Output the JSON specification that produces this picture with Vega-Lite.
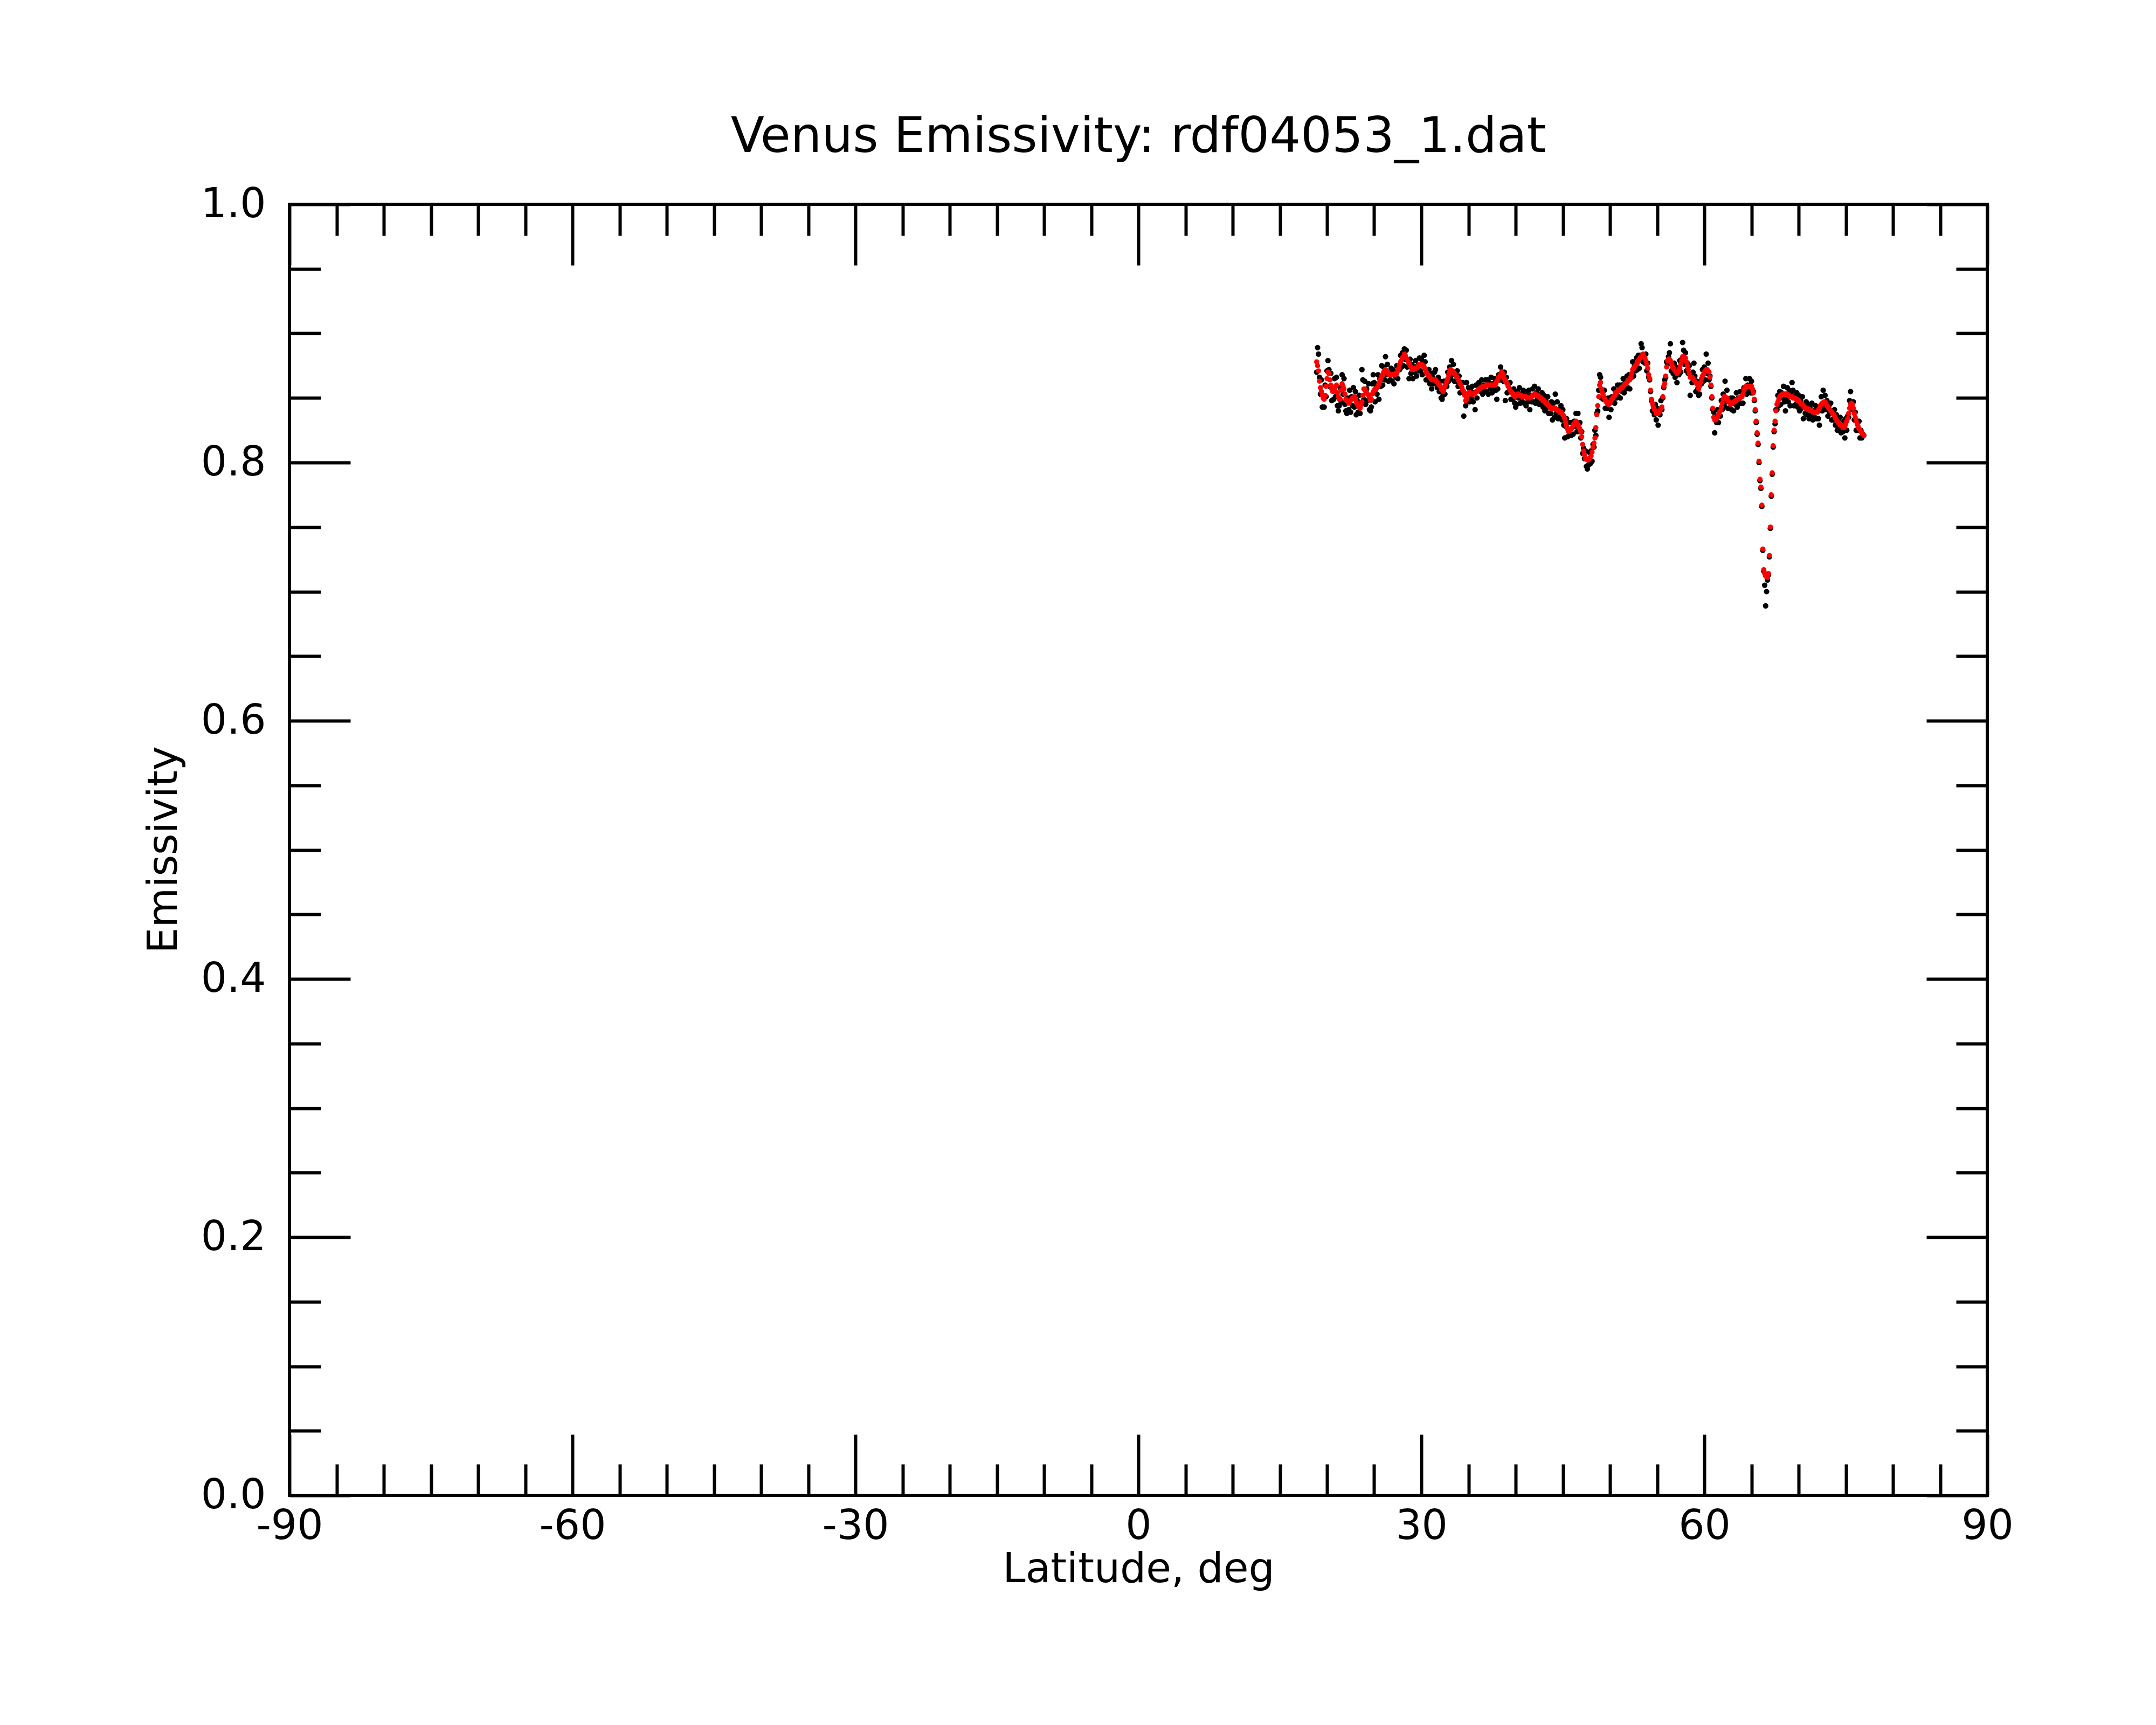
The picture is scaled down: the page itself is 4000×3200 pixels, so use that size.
{
  "$schema": "https://vega.github.io/schema/vega-lite/v6.json",
  "width": 3150,
  "height": 2395,
  "autosize": {"type": "none"},
  "padding": {"left": 537, "top": 379, "right": 313, "bottom": 426},
  "background": "white",
  "title": {
    "text": "Venus Emissivity: rdf04053_1.dat",
    "font": "DejaVu Sans",
    "fontSize": 91,
    "fontWeight": "normal",
    "color": "black",
    "anchor": "middle",
    "offset": 40
  },
  "data": {
    "values": [
      {"lat":18.9,"raw":0.870,"fit":0.878},{"lat":19.0,"raw":0.889,"fit":0.875},{"lat":19.1,"raw":0.884,"fit":0.871},{"lat":19.2,"raw":0.866,"fit":0.863},{"lat":19.3,"raw":0.853,"fit":0.858},
      {"lat":19.4,"raw":0.864,"fit":0.855},{"lat":19.5,"raw":0.843,"fit":0.852},{"lat":19.6,"raw":0.852,"fit":0.850},{"lat":19.7,"raw":0.843,"fit":0.849},{"lat":19.8,"raw":0.860,"fit":0.852},
      {"lat":19.9,"raw":0.851,"fit":0.859},{"lat":20.0,"raw":0.871,"fit":0.865},{"lat":20.1,"raw":0.879,"fit":0.870},{"lat":20.2,"raw":0.872,"fit":0.869},{"lat":20.3,"raw":0.859,"fit":0.864},
      {"lat":20.4,"raw":0.869,"fit":0.860},{"lat":20.5,"raw":0.848,"fit":0.857},{"lat":20.6,"raw":0.857,"fit":0.855},{"lat":20.7,"raw":0.849,"fit":0.855},{"lat":20.8,"raw":0.865,"fit":0.857},
      {"lat":20.9,"raw":0.851,"fit":0.859},{"lat":21.0,"raw":0.866,"fit":0.860},{"lat":21.1,"raw":0.844,"fit":0.854},{"lat":21.2,"raw":0.840,"fit":0.851},{"lat":21.3,"raw":0.844,"fit":0.849},
      {"lat":21.4,"raw":0.858,"fit":0.849},{"lat":21.5,"raw":0.847,"fit":0.856},{"lat":21.6,"raw":0.868,"fit":0.861},{"lat":21.7,"raw":0.853,"fit":0.859},{"lat":21.8,"raw":0.865,"fit":0.857},
      {"lat":21.9,"raw":0.845,"fit":0.853},{"lat":22.0,"raw":0.840,"fit":0.849},{"lat":22.1,"raw":0.838,"fit":0.848},{"lat":22.2,"raw":0.850,"fit":0.847},{"lat":22.3,"raw":0.841,"fit":0.846},
      {"lat":22.4,"raw":0.856,"fit":0.847},{"lat":22.5,"raw":0.839,"fit":0.848},{"lat":22.6,"raw":0.851,"fit":0.849},{"lat":22.7,"raw":0.844,"fit":0.850},{"lat":22.8,"raw":0.858,"fit":0.850},
      {"lat":22.9,"raw":0.843,"fit":0.851},{"lat":23.0,"raw":0.855,"fit":0.849},{"lat":23.1,"raw":0.837,"fit":0.847},{"lat":23.2,"raw":0.848,"fit":0.845},{"lat":23.3,"raw":0.839,"fit":0.844},
      {"lat":23.4,"raw":0.852,"fit":0.843},{"lat":23.5,"raw":0.838,"fit":0.842},{"lat":23.6,"raw":0.846,"fit":0.844},{"lat":23.7,"raw":0.872,"fit":0.847},{"lat":23.8,"raw":0.864,"fit":0.852},
      {"lat":23.9,"raw":0.849,"fit":0.857},{"lat":24.0,"raw":0.863,"fit":0.857},{"lat":24.1,"raw":0.845,"fit":0.855},{"lat":24.2,"raw":0.857,"fit":0.854},{"lat":24.3,"raw":0.848,"fit":0.853},
      {"lat":24.4,"raw":0.861,"fit":0.852},{"lat":24.5,"raw":0.841,"fit":0.850},{"lat":24.6,"raw":0.840,"fit":0.848},{"lat":24.7,"raw":0.843,"fit":0.849},{"lat":24.8,"raw":0.861,"fit":0.853},
      {"lat":24.9,"raw":0.868,"fit":0.855},{"lat":25.0,"raw":0.862,"fit":0.856},{"lat":25.1,"raw":0.847,"fit":0.857},{"lat":25.2,"raw":0.860,"fit":0.857},{"lat":25.3,"raw":0.853,"fit":0.858},
      {"lat":25.4,"raw":0.868,"fit":0.859},{"lat":25.5,"raw":0.849,"fit":0.861},{"lat":25.6,"raw":0.865,"fit":0.863},{"lat":25.7,"raw":0.859,"fit":0.865},{"lat":25.8,"raw":0.875,"fit":0.867},
      {"lat":25.9,"raw":0.860,"fit":0.868},{"lat":26.0,"raw":0.874,"fit":0.870},{"lat":26.1,"raw":0.864,"fit":0.871},{"lat":26.2,"raw":0.882,"fit":0.872},{"lat":26.3,"raw":0.868,"fit":0.871},
      {"lat":26.4,"raw":0.876,"fit":0.870},{"lat":26.5,"raw":0.863,"fit":0.869},{"lat":26.6,"raw":0.869,"fit":0.868},{"lat":26.7,"raw":0.864,"fit":0.868},{"lat":26.8,"raw":0.873,"fit":0.868},
      {"lat":26.9,"raw":0.863,"fit":0.868},{"lat":27.0,"raw":0.872,"fit":0.868},{"lat":27.1,"raw":0.861,"fit":0.868},{"lat":27.2,"raw":0.870,"fit":0.868},{"lat":27.3,"raw":0.866,"fit":0.869},
      {"lat":27.4,"raw":0.875,"fit":0.869},{"lat":27.5,"raw":0.865,"fit":0.871},{"lat":27.6,"raw":0.874,"fit":0.873},{"lat":27.7,"raw":0.872,"fit":0.876},{"lat":27.8,"raw":0.883,"fit":0.878},
      {"lat":27.9,"raw":0.874,"fit":0.879},{"lat":28.0,"raw":0.885,"fit":0.881},{"lat":28.1,"raw":0.875,"fit":0.882},{"lat":28.2,"raw":0.888,"fit":0.884},{"lat":28.3,"raw":0.880,"fit":0.883},
      {"lat":28.4,"raw":0.887,"fit":0.881},{"lat":28.5,"raw":0.874,"fit":0.880},{"lat":28.6,"raw":0.879,"fit":0.878},{"lat":28.7,"raw":0.865,"fit":0.877},{"lat":28.8,"raw":0.880,"fit":0.875},
      {"lat":28.9,"raw":0.869,"fit":0.874},{"lat":29.0,"raw":0.876,"fit":0.872},{"lat":29.1,"raw":0.865,"fit":0.872},{"lat":29.2,"raw":0.874,"fit":0.872},{"lat":29.3,"raw":0.870,"fit":0.873},
      {"lat":29.4,"raw":0.879,"fit":0.873},{"lat":29.5,"raw":0.867,"fit":0.873},{"lat":29.6,"raw":0.875,"fit":0.874},{"lat":29.7,"raw":0.871,"fit":0.875},{"lat":29.8,"raw":0.881,"fit":0.876},
      {"lat":29.9,"raw":0.871,"fit":0.876},{"lat":30.0,"raw":0.880,"fit":0.876},{"lat":30.1,"raw":0.868,"fit":0.875},{"lat":30.2,"raw":0.877,"fit":0.875},{"lat":30.3,"raw":0.883,"fit":0.874},
      {"lat":30.4,"raw":0.878,"fit":0.872},{"lat":30.5,"raw":0.864,"fit":0.870},{"lat":30.6,"raw":0.870,"fit":0.869},{"lat":30.7,"raw":0.864,"fit":0.868},{"lat":30.8,"raw":0.872,"fit":0.867},
      {"lat":30.9,"raw":0.861,"fit":0.866},{"lat":31.0,"raw":0.869,"fit":0.865},{"lat":31.1,"raw":0.857,"fit":0.864},{"lat":31.2,"raw":0.866,"fit":0.864},{"lat":31.3,"raw":0.861,"fit":0.864},
      {"lat":31.4,"raw":0.870,"fit":0.864},{"lat":31.5,"raw":0.872,"fit":0.864},{"lat":31.6,"raw":0.864,"fit":0.863},{"lat":31.7,"raw":0.858,"fit":0.862},{"lat":31.8,"raw":0.866,"fit":0.861},
      {"lat":31.9,"raw":0.855,"fit":0.860},{"lat":32.0,"raw":0.863,"fit":0.859},{"lat":32.1,"raw":0.850,"fit":0.857},{"lat":32.2,"raw":0.849,"fit":0.856},{"lat":32.3,"raw":0.852,"fit":0.855},
      {"lat":32.4,"raw":0.863,"fit":0.857},{"lat":32.5,"raw":0.853,"fit":0.859},{"lat":32.6,"raw":0.862,"fit":0.861},{"lat":32.7,"raw":0.859,"fit":0.863},{"lat":32.8,"raw":0.870,"fit":0.865},
      {"lat":32.9,"raw":0.863,"fit":0.868},{"lat":33.0,"raw":0.874,"fit":0.870},{"lat":33.1,"raw":0.865,"fit":0.872},{"lat":33.2,"raw":0.879,"fit":0.871},{"lat":33.3,"raw":0.868,"fit":0.871},
      {"lat":33.4,"raw":0.876,"fit":0.870},{"lat":33.5,"raw":0.863,"fit":0.869},{"lat":33.6,"raw":0.869,"fit":0.868},{"lat":33.7,"raw":0.863,"fit":0.867},{"lat":33.8,"raw":0.871,"fit":0.866},
      {"lat":33.9,"raw":0.859,"fit":0.864},{"lat":34.0,"raw":0.867,"fit":0.863},{"lat":34.1,"raw":0.854,"fit":0.861},{"lat":34.2,"raw":0.862,"fit":0.860},{"lat":34.3,"raw":0.855,"fit":0.858},
      {"lat":34.4,"raw":0.862,"fit":0.856},{"lat":34.5,"raw":0.836,"fit":0.855},{"lat":34.6,"raw":0.853,"fit":0.852},{"lat":34.7,"raw":0.844,"fit":0.848},{"lat":34.8,"raw":0.862,"fit":0.849},
      {"lat":34.9,"raw":0.847,"fit":0.852},{"lat":35.0,"raw":0.858,"fit":0.854},{"lat":35.1,"raw":0.847,"fit":0.854},{"lat":35.2,"raw":0.856,"fit":0.854},{"lat":35.3,"raw":0.850,"fit":0.853},
      {"lat":35.4,"raw":0.859,"fit":0.853},{"lat":35.5,"raw":0.847,"fit":0.853},{"lat":35.6,"raw":0.854,"fit":0.853},{"lat":35.7,"raw":0.841,"fit":0.854},{"lat":35.8,"raw":0.860,"fit":0.855},
      {"lat":35.9,"raw":0.850,"fit":0.855},{"lat":36.0,"raw":0.860,"fit":0.856},{"lat":36.1,"raw":0.862,"fit":0.857},{"lat":36.2,"raw":0.859,"fit":0.857},{"lat":36.3,"raw":0.855,"fit":0.858},
      {"lat":36.4,"raw":0.864,"fit":0.858},{"lat":36.5,"raw":0.853,"fit":0.859},{"lat":36.6,"raw":0.860,"fit":0.859},{"lat":36.7,"raw":0.855,"fit":0.859},{"lat":36.8,"raw":0.864,"fit":0.859},
      {"lat":36.9,"raw":0.855,"fit":0.860},{"lat":37.0,"raw":0.864,"fit":0.860},{"lat":37.1,"raw":0.853,"fit":0.860},{"lat":37.2,"raw":0.862,"fit":0.860},{"lat":37.3,"raw":0.857,"fit":0.860},
      {"lat":37.4,"raw":0.866,"fit":0.860},{"lat":37.5,"raw":0.854,"fit":0.860},{"lat":37.6,"raw":0.861,"fit":0.860},{"lat":37.7,"raw":0.856,"fit":0.860},{"lat":37.8,"raw":0.865,"fit":0.860},
      {"lat":37.9,"raw":0.856,"fit":0.861},{"lat":38.0,"raw":0.849,"fit":0.863},{"lat":38.1,"raw":0.857,"fit":0.864},{"lat":38.2,"raw":0.868,"fit":0.866},{"lat":38.3,"raw":0.864,"fit":0.867},
      {"lat":38.4,"raw":0.874,"fit":0.868},{"lat":38.5,"raw":0.864,"fit":0.870},{"lat":38.6,"raw":0.870,"fit":0.869},{"lat":38.7,"raw":0.863,"fit":0.867},{"lat":38.8,"raw":0.870,"fit":0.865},
      {"lat":38.9,"raw":0.848,"fit":0.863},{"lat":39.0,"raw":0.866,"fit":0.862},{"lat":39.1,"raw":0.854,"fit":0.861},{"lat":39.2,"raw":0.861,"fit":0.859},{"lat":39.3,"raw":0.855,"fit":0.858},
      {"lat":39.4,"raw":0.862,"fit":0.856},{"lat":39.5,"raw":0.849,"fit":0.855},{"lat":39.6,"raw":0.855,"fit":0.854},{"lat":39.7,"raw":0.849,"fit":0.853},{"lat":39.8,"raw":0.857,"fit":0.852},
      {"lat":39.9,"raw":0.846,"fit":0.851},{"lat":40.0,"raw":0.843,"fit":0.852},{"lat":40.1,"raw":0.845,"fit":0.852},{"lat":40.2,"raw":0.855,"fit":0.853},{"lat":40.3,"raw":0.850,"fit":0.853},
      {"lat":40.4,"raw":0.858,"fit":0.852},{"lat":40.5,"raw":0.846,"fit":0.852},{"lat":40.6,"raw":0.853,"fit":0.852},{"lat":40.7,"raw":0.847,"fit":0.851},{"lat":40.8,"raw":0.856,"fit":0.851},
      {"lat":40.9,"raw":0.846,"fit":0.851},{"lat":41.0,"raw":0.855,"fit":0.851},{"lat":41.1,"raw":0.844,"fit":0.851},{"lat":41.2,"raw":0.852,"fit":0.850},{"lat":41.3,"raw":0.847,"fit":0.850},
      {"lat":41.4,"raw":0.856,"fit":0.850},{"lat":41.5,"raw":0.841,"fit":0.850},{"lat":41.6,"raw":0.852,"fit":0.851},{"lat":41.7,"raw":0.847,"fit":0.851},{"lat":41.8,"raw":0.857,"fit":0.852},
      {"lat":41.9,"raw":0.847,"fit":0.852},{"lat":42.0,"raw":0.859,"fit":0.853},{"lat":42.1,"raw":0.846,"fit":0.853},{"lat":42.2,"raw":0.854,"fit":0.852},{"lat":42.3,"raw":0.849,"fit":0.852},
      {"lat":42.4,"raw":0.857,"fit":0.851},{"lat":42.5,"raw":0.845,"fit":0.851},{"lat":42.6,"raw":0.851,"fit":0.850},{"lat":42.7,"raw":0.846,"fit":0.850},{"lat":42.8,"raw":0.854,"fit":0.849},
      {"lat":42.9,"raw":0.843,"fit":0.848},{"lat":43.0,"raw":0.852,"fit":0.848},{"lat":43.1,"raw":0.840,"fit":0.847},{"lat":43.2,"raw":0.848,"fit":0.846},{"lat":43.3,"raw":0.842,"fit":0.845},
      {"lat":43.4,"raw":0.851,"fit":0.845},{"lat":43.5,"raw":0.838,"fit":0.844},{"lat":43.6,"raw":0.844,"fit":0.843},{"lat":43.7,"raw":0.838,"fit":0.842},{"lat":43.8,"raw":0.847,"fit":0.842},
      {"lat":43.9,"raw":0.833,"fit":0.842},{"lat":44.0,"raw":0.846,"fit":0.842},{"lat":44.1,"raw":0.835,"fit":0.842},{"lat":44.2,"raw":0.853,"fit":0.842},{"lat":44.3,"raw":0.838,"fit":0.841},
      {"lat":44.4,"raw":0.847,"fit":0.841},{"lat":44.5,"raw":0.834,"fit":0.840},{"lat":44.6,"raw":0.841,"fit":0.840},{"lat":44.7,"raw":0.835,"fit":0.839},{"lat":44.8,"raw":0.844,"fit":0.839},
      {"lat":44.9,"raw":0.833,"fit":0.838},{"lat":45.0,"raw":0.841,"fit":0.837},{"lat":45.1,"raw":0.829,"fit":0.836},{"lat":45.2,"raw":0.819,"fit":0.834},{"lat":45.3,"raw":0.828,"fit":0.831},
      {"lat":45.4,"raw":0.834,"fit":0.828},{"lat":45.5,"raw":0.820,"fit":0.826},{"lat":45.6,"raw":0.825,"fit":0.824},{"lat":45.7,"raw":0.821,"fit":0.825},{"lat":45.8,"raw":0.831,"fit":0.826},
      {"lat":45.9,"raw":0.821,"fit":0.826},{"lat":46.0,"raw":0.831,"fit":0.827},{"lat":46.1,"raw":0.822,"fit":0.829},{"lat":46.2,"raw":0.832,"fit":0.830},{"lat":46.3,"raw":0.828,"fit":0.831},
      {"lat":46.4,"raw":0.838,"fit":0.832},{"lat":46.5,"raw":0.824,"fit":0.830},{"lat":46.6,"raw":0.838,"fit":0.829},{"lat":46.7,"raw":0.824,"fit":0.828},{"lat":46.8,"raw":0.831,"fit":0.826},
      {"lat":46.9,"raw":0.819,"fit":0.824},{"lat":47.0,"raw":0.824,"fit":0.820},{"lat":47.1,"raw":0.807,"fit":0.814},{"lat":47.2,"raw":0.811,"fit":0.809},{"lat":47.3,"raw":0.803,"fit":0.806},
      {"lat":47.4,"raw":0.809,"fit":0.803},{"lat":47.5,"raw":0.797,"fit":0.803},{"lat":47.6,"raw":0.795,"fit":0.802},{"lat":47.7,"raw":0.798,"fit":0.802},{"lat":47.8,"raw":0.808,"fit":0.803},
      {"lat":47.9,"raw":0.799,"fit":0.804},{"lat":48.0,"raw":0.809,"fit":0.805},{"lat":48.1,"raw":0.801,"fit":0.808},{"lat":48.2,"raw":0.814,"fit":0.812},{"lat":48.3,"raw":0.812,"fit":0.815},
      {"lat":48.4,"raw":0.825,"fit":0.819},{"lat":48.5,"raw":0.821,"fit":0.827},{"lat":48.6,"raw":0.838,"fit":0.837},{"lat":48.7,"raw":0.840,"fit":0.844},{"lat":48.8,"raw":0.856,"fit":0.851},
      {"lat":48.9,"raw":0.868,"fit":0.860},{"lat":49.0,"raw":0.866,"fit":0.862},{"lat":49.1,"raw":0.850,"fit":0.857},{"lat":49.2,"raw":0.856,"fit":0.854},{"lat":49.3,"raw":0.849,"fit":0.852},
      {"lat":49.4,"raw":0.856,"fit":0.850},{"lat":49.5,"raw":0.842,"fit":0.848},{"lat":49.6,"raw":0.848,"fit":0.847},{"lat":49.7,"raw":0.842,"fit":0.846},{"lat":49.8,"raw":0.850,"fit":0.845},
      {"lat":49.9,"raw":0.835,"fit":0.845},{"lat":50.0,"raw":0.850,"fit":0.846},{"lat":50.1,"raw":0.841,"fit":0.848},{"lat":50.2,"raw":0.851,"fit":0.849},{"lat":50.3,"raw":0.847,"fit":0.850},
      {"lat":50.4,"raw":0.857,"fit":0.851},{"lat":50.5,"raw":0.846,"fit":0.852},{"lat":50.6,"raw":0.855,"fit":0.854},{"lat":50.7,"raw":0.850,"fit":0.854},{"lat":50.8,"raw":0.860,"fit":0.855},
      {"lat":50.9,"raw":0.851,"fit":0.856},{"lat":51.0,"raw":0.860,"fit":0.856},{"lat":51.1,"raw":0.850,"fit":0.857},{"lat":51.2,"raw":0.860,"fit":0.858},{"lat":51.3,"raw":0.855,"fit":0.858},
      {"lat":51.4,"raw":0.865,"fit":0.859},{"lat":51.5,"raw":0.854,"fit":0.860},{"lat":51.6,"raw":0.862,"fit":0.861},{"lat":51.7,"raw":0.857,"fit":0.861},{"lat":51.8,"raw":0.867,"fit":0.862},
      {"lat":51.9,"raw":0.858,"fit":0.863},{"lat":52.0,"raw":0.868,"fit":0.864},{"lat":52.1,"raw":0.857,"fit":0.864},{"lat":52.2,"raw":0.868,"fit":0.866},{"lat":52.3,"raw":0.866,"fit":0.869},
      {"lat":52.4,"raw":0.878,"fit":0.872},{"lat":52.5,"raw":0.867,"fit":0.873},{"lat":52.6,"raw":0.875,"fit":0.874},{"lat":52.7,"raw":0.871,"fit":0.875},{"lat":52.8,"raw":0.881,"fit":0.876},
      {"lat":52.9,"raw":0.872,"fit":0.877},{"lat":53.0,"raw":0.883,"fit":0.879},{"lat":53.1,"raw":0.873,"fit":0.880},{"lat":53.2,"raw":0.883,"fit":0.881},{"lat":53.3,"raw":0.892,"fit":0.882},
      {"lat":53.4,"raw":0.889,"fit":0.883},{"lat":53.5,"raw":0.878,"fit":0.884},{"lat":53.6,"raw":0.883,"fit":0.882},{"lat":53.7,"raw":0.877,"fit":0.881},{"lat":53.8,"raw":0.884,"fit":0.879},
      {"lat":53.9,"raw":0.871,"fit":0.876},{"lat":54.0,"raw":0.877,"fit":0.873},{"lat":54.1,"raw":0.866,"fit":0.868},{"lat":54.2,"raw":0.864,"fit":0.865},{"lat":54.3,"raw":0.855,"fit":0.856},
      {"lat":54.4,"raw":0.848,"fit":0.849},{"lat":54.5,"raw":0.840,"fit":0.846},{"lat":54.6,"raw":0.844,"fit":0.843},{"lat":54.7,"raw":0.837,"fit":0.841},{"lat":54.8,"raw":0.845,"fit":0.840},
      {"lat":54.9,"raw":0.833,"fit":0.838},{"lat":55.0,"raw":0.842,"fit":0.838},{"lat":55.1,"raw":0.829,"fit":0.838},{"lat":55.2,"raw":0.841,"fit":0.839},{"lat":55.3,"raw":0.837,"fit":0.840},
      {"lat":55.4,"raw":0.848,"fit":0.842},{"lat":55.5,"raw":0.841,"fit":0.843},{"lat":55.6,"raw":0.850,"fit":0.851},{"lat":55.7,"raw":0.858,"fit":0.859},{"lat":55.8,"raw":0.864,"fit":0.861},
      {"lat":55.9,"raw":0.866,"fit":0.867},{"lat":56.0,"raw":0.878,"fit":0.874},{"lat":56.1,"raw":0.876,"fit":0.879},{"lat":56.2,"raw":0.882,"fit":0.880},{"lat":56.3,"raw":0.885,"fit":0.880},
      {"lat":56.4,"raw":0.892,"fit":0.879},{"lat":56.5,"raw":0.871,"fit":0.877},{"lat":56.6,"raw":0.876,"fit":0.875},{"lat":56.7,"raw":0.869,"fit":0.873},{"lat":56.8,"raw":0.877,"fit":0.872},
      {"lat":56.9,"raw":0.866,"fit":0.871},{"lat":57.0,"raw":0.874,"fit":0.870},{"lat":57.1,"raw":0.862,"fit":0.869},{"lat":57.2,"raw":0.872,"fit":0.870},{"lat":57.3,"raw":0.868,"fit":0.871},
      {"lat":57.4,"raw":0.879,"fit":0.873},{"lat":57.5,"raw":0.870,"fit":0.876},{"lat":57.6,"raw":0.880,"fit":0.879},{"lat":57.7,"raw":0.893,"fit":0.882},{"lat":57.8,"raw":0.887,"fit":0.882},
      {"lat":57.9,"raw":0.876,"fit":0.881},{"lat":58.0,"raw":0.885,"fit":0.881},{"lat":58.1,"raw":0.871,"fit":0.878},{"lat":58.2,"raw":0.877,"fit":0.875},{"lat":58.3,"raw":0.869,"fit":0.872},
      {"lat":58.4,"raw":0.875,"fit":0.869},{"lat":58.5,"raw":0.852,"fit":0.866},{"lat":58.6,"raw":0.867,"fit":0.866},{"lat":58.7,"raw":0.862,"fit":0.866},{"lat":58.8,"raw":0.870,"fit":0.865},
      {"lat":58.9,"raw":0.877,"fit":0.864},{"lat":59.0,"raw":0.867,"fit":0.863},{"lat":59.1,"raw":0.855,"fit":0.862},{"lat":59.2,"raw":0.863,"fit":0.861},{"lat":59.3,"raw":0.857,"fit":0.860},
      {"lat":59.4,"raw":0.852,"fit":0.857},{"lat":59.5,"raw":0.853,"fit":0.859},{"lat":59.6,"raw":0.863,"fit":0.862},{"lat":59.7,"raw":0.861,"fit":0.865},{"lat":59.8,"raw":0.872,"fit":0.867},
      {"lat":59.9,"raw":0.863,"fit":0.868},{"lat":60.0,"raw":0.874,"fit":0.870},{"lat":60.1,"raw":0.864,"fit":0.871},{"lat":60.2,"raw":0.884,"fit":0.872},{"lat":60.3,"raw":0.869,"fit":0.872},
      {"lat":60.4,"raw":0.877,"fit":0.871},{"lat":60.5,"raw":0.864,"fit":0.870},{"lat":60.6,"raw":0.867,"fit":0.866},{"lat":60.7,"raw":0.859,"fit":0.860},{"lat":60.8,"raw":0.850,"fit":0.851},
      {"lat":60.9,"raw":0.841,"fit":0.842},{"lat":61.0,"raw":0.839,"fit":0.835},{"lat":61.1,"raw":0.823,"fit":0.833},{"lat":61.2,"raw":0.835,"fit":0.833},{"lat":61.3,"raw":0.831,"fit":0.834},
      {"lat":61.4,"raw":0.841,"fit":0.835},{"lat":61.5,"raw":0.831,"fit":0.837},{"lat":61.6,"raw":0.840,"fit":0.839},{"lat":61.7,"raw":0.836,"fit":0.840},{"lat":61.8,"raw":0.848,"fit":0.843},
      {"lat":61.9,"raw":0.841,"fit":0.846},{"lat":62.0,"raw":0.853,"fit":0.849},{"lat":62.1,"raw":0.844,"fit":0.851},{"lat":62.2,"raw":0.863,"fit":0.851},{"lat":62.3,"raw":0.847,"fit":0.850},
      {"lat":62.4,"raw":0.856,"fit":0.850},{"lat":62.5,"raw":0.842,"fit":0.848},{"lat":62.6,"raw":0.848,"fit":0.847},{"lat":62.7,"raw":0.842,"fit":0.846},{"lat":62.8,"raw":0.850,"fit":0.845},
      {"lat":62.9,"raw":0.841,"fit":0.846},{"lat":63.0,"raw":0.850,"fit":0.846},{"lat":63.1,"raw":0.840,"fit":0.847},{"lat":63.2,"raw":0.849,"fit":0.847},{"lat":63.3,"raw":0.845,"fit":0.848},
      {"lat":63.4,"raw":0.854,"fit":0.848},{"lat":63.5,"raw":0.843,"fit":0.849},{"lat":63.6,"raw":0.850,"fit":0.849},{"lat":63.7,"raw":0.846,"fit":0.850},{"lat":63.8,"raw":0.855,"fit":0.850},
      {"lat":63.9,"raw":0.846,"fit":0.851},{"lat":64.0,"raw":0.855,"fit":0.851},{"lat":64.1,"raw":0.846,"fit":0.853},{"lat":64.2,"raw":0.858,"fit":0.856},{"lat":64.3,"raw":0.855,"fit":0.858},
      {"lat":64.4,"raw":0.865,"fit":0.859},{"lat":64.5,"raw":0.853,"fit":0.859},{"lat":64.6,"raw":0.860,"fit":0.859},{"lat":64.7,"raw":0.855,"fit":0.859},{"lat":64.8,"raw":0.865,"fit":0.859},
      {"lat":64.9,"raw":0.854,"fit":0.859},{"lat":65.0,"raw":0.863,"fit":0.859},{"lat":65.1,"raw":0.854,"fit":0.857},{"lat":65.2,"raw":0.855,"fit":0.854},{"lat":65.3,"raw":0.848,"fit":0.849},
      {"lat":65.4,"raw":0.840,"fit":0.841},{"lat":65.5,"raw":0.831,"fit":0.832},{"lat":65.6,"raw":0.822,"fit":0.823},{"lat":65.7,"raw":0.814,"fit":0.815},{"lat":65.8,"raw":0.800,"fit":0.801},
      {"lat":65.9,"raw":0.786,"fit":0.787},{"lat":66.0,"raw":0.780,"fit":0.781},{"lat":66.1,"raw":0.766,"fit":0.767},{"lat":66.2,"raw":0.732,"fit":0.733},{"lat":66.3,"raw":0.716,"fit":0.717},
      {"lat":66.4,"raw":0.705,"fit":0.714},{"lat":66.5,"raw":0.689,"fit":0.712},{"lat":66.6,"raw":0.700,"fit":0.712},{"lat":66.7,"raw":0.709,"fit":0.711},{"lat":66.8,"raw":0.713,"fit":0.714},
      {"lat":66.9,"raw":0.727,"fit":0.728},{"lat":67.0,"raw":0.749,"fit":0.750},{"lat":67.1,"raw":0.774,"fit":0.775},{"lat":67.2,"raw":0.791,"fit":0.792},{"lat":67.3,"raw":0.812,"fit":0.813},
      {"lat":67.4,"raw":0.824,"fit":0.825},{"lat":67.5,"raw":0.830,"fit":0.832},{"lat":67.6,"raw":0.841,"fit":0.840},{"lat":67.7,"raw":0.841,"fit":0.845},{"lat":67.8,"raw":0.852,"fit":0.847},
      {"lat":67.9,"raw":0.844,"fit":0.849},{"lat":68.0,"raw":0.855,"fit":0.851},{"lat":68.1,"raw":0.845,"fit":0.852},{"lat":68.2,"raw":0.854,"fit":0.852},{"lat":68.3,"raw":0.850,"fit":0.853},
      {"lat":68.4,"raw":0.859,"fit":0.853},{"lat":68.5,"raw":0.847,"fit":0.853},{"lat":68.6,"raw":0.840,"fit":0.853},{"lat":68.7,"raw":0.849,"fit":0.853},{"lat":68.8,"raw":0.858,"fit":0.853},
      {"lat":68.9,"raw":0.847,"fit":0.852},{"lat":69.0,"raw":0.856,"fit":0.852},{"lat":69.1,"raw":0.844,"fit":0.851},{"lat":69.2,"raw":0.853,"fit":0.851},{"lat":69.3,"raw":0.862,"fit":0.851},
      {"lat":69.4,"raw":0.856,"fit":0.850},{"lat":69.5,"raw":0.844,"fit":0.850},{"lat":69.6,"raw":0.851,"fit":0.850},{"lat":69.7,"raw":0.845,"fit":0.849},{"lat":69.8,"raw":0.854,"fit":0.849},
      {"lat":69.9,"raw":0.843,"fit":0.848},{"lat":70.0,"raw":0.852,"fit":0.848},{"lat":70.1,"raw":0.840,"fit":0.847},{"lat":70.2,"raw":0.848,"fit":0.846},{"lat":70.3,"raw":0.842,"fit":0.845},
      {"lat":70.4,"raw":0.851,"fit":0.845},{"lat":70.5,"raw":0.834,"fit":0.844},{"lat":70.6,"raw":0.844,"fit":0.843},{"lat":70.7,"raw":0.838,"fit":0.842},{"lat":70.8,"raw":0.847,"fit":0.842},
      {"lat":70.9,"raw":0.837,"fit":0.842},{"lat":71.0,"raw":0.845,"fit":0.841},{"lat":71.1,"raw":0.834,"fit":0.841},{"lat":71.2,"raw":0.843,"fit":0.841},{"lat":71.3,"raw":0.837,"fit":0.840},
      {"lat":71.4,"raw":0.846,"fit":0.840},{"lat":71.5,"raw":0.833,"fit":0.839},{"lat":71.6,"raw":0.840,"fit":0.839},{"lat":71.7,"raw":0.835,"fit":0.839},{"lat":71.8,"raw":0.844,"fit":0.839},
      {"lat":71.9,"raw":0.834,"fit":0.839},{"lat":72.0,"raw":0.843,"fit":0.839},{"lat":72.1,"raw":0.834,"fit":0.841},{"lat":72.2,"raw":0.829,"fit":0.842},{"lat":72.3,"raw":0.841,"fit":0.844},
      {"lat":72.4,"raw":0.851,"fit":0.845},{"lat":72.5,"raw":0.840,"fit":0.846},{"lat":72.6,"raw":0.856,"fit":0.846},{"lat":72.7,"raw":0.843,"fit":0.847},{"lat":72.8,"raw":0.852,"fit":0.847},
      {"lat":72.9,"raw":0.841,"fit":0.846},{"lat":73.0,"raw":0.848,"fit":0.844},{"lat":73.1,"raw":0.836,"fit":0.843},{"lat":73.2,"raw":0.844,"fit":0.842},{"lat":73.3,"raw":0.838,"fit":0.841},
      {"lat":73.4,"raw":0.846,"fit":0.840},{"lat":73.5,"raw":0.833,"fit":0.839},{"lat":73.6,"raw":0.839,"fit":0.838},{"lat":73.7,"raw":0.833,"fit":0.837},{"lat":73.8,"raw":0.841,"fit":0.836},
      {"lat":73.9,"raw":0.829,"fit":0.834},{"lat":74.0,"raw":0.837,"fit":0.833},{"lat":74.1,"raw":0.825,"fit":0.832},{"lat":74.2,"raw":0.833,"fit":0.831},{"lat":74.3,"raw":0.827,"fit":0.830},
      {"lat":74.4,"raw":0.835,"fit":0.829},{"lat":74.5,"raw":0.823,"fit":0.829},{"lat":74.6,"raw":0.829,"fit":0.828},{"lat":74.7,"raw":0.824,"fit":0.828},{"lat":74.8,"raw":0.832,"fit":0.827},
      {"lat":74.9,"raw":0.819,"fit":0.828},{"lat":75.0,"raw":0.834,"fit":0.830},{"lat":75.1,"raw":0.825,"fit":0.832},{"lat":75.2,"raw":0.836,"fit":0.834},{"lat":75.3,"raw":0.835,"fit":0.838},
      {"lat":75.4,"raw":0.848,"fit":0.842},{"lat":75.5,"raw":0.855,"fit":0.845},{"lat":75.6,"raw":0.847,"fit":0.846},{"lat":75.7,"raw":0.841,"fit":0.845},{"lat":75.8,"raw":0.847,"fit":0.842},
      {"lat":75.9,"raw":0.833,"fit":0.838},{"lat":76.0,"raw":0.839,"fit":0.835},{"lat":76.1,"raw":0.825,"fit":0.832},{"lat":76.2,"raw":0.832,"fit":0.830},{"lat":76.3,"raw":0.825,"fit":0.828},
      {"lat":76.4,"raw":0.832,"fit":0.826},{"lat":76.5,"raw":0.819,"fit":0.825},{"lat":76.6,"raw":0.825,"fit":0.824},{"lat":76.7,"raw":0.819,"fit":0.823},{"lat":76.8,"raw":0.822,"fit":0.822},
      {"lat":76.9,"raw":0.821,"fit":0.821}
    ]
  },
  "layer": [
    {
      "mark": {"type": "circle", "size": 105, "color": "black", "opacity": 1},
      "encoding": {
        "x": {
          "field": "lat",
          "type": "quantitative",
          "scale": {"domain": [-90, 90], "nice": false, "zero": false},
          "axis": {
            "orient": "bottom",
            "values": [-90, -60, -30, 0, 30, 60, 90],
            "labelExpr": "datum.value < 0 ? '-' + abs(datum.value) : '' + datum.value",
            "ticks": false,
            "domain": false,
            "grid": false,
            "labelFlush": false,
            "labelOverlap": false,
            "labelPadding": 20,
            "title": "Latitude, deg",
            "titleX": 1575,
            "titleY": 160,
            "titleAlign": "center",
            "titleBaseline": "alphabetic"
          }
        },
        "y": {
          "field": "raw",
          "type": "quantitative",
          "scale": {"domain": [0, 1], "nice": false, "zero": false},
          "axis": {
            "orient": "left",
            "values": [0, 0.2, 0.4, 0.6, 0.8, 1.0],
            "labelExpr": "format(datum.value, '.1f')",
            "ticks": false,
            "domain": false,
            "grid": false,
            "labelFlush": false,
            "labelOverlap": false,
            "labelPadding": 44,
            "title": "Emissivity",
            "titleAngle": -90,
            "titleX": -210,
            "titleY": 1197,
            "titleAlign": "center",
            "titleBaseline": "alphabetic"
          }
        }
      }
    },
    {
      "mark": {"type": "circle", "size": 92, "color": "#ff0000", "opacity": 1},
      "encoding": {
        "x": {
          "field": "lat",
          "type": "quantitative",
          "scale": {"domain": [-90, 90], "nice": false, "zero": false},
          "axis": {
            "orient": "bottom",
            "values": [-90, -85, -80, -75, -70, -65, -60, -55, -50, -45, -40, -35, -30, -25, -20, -15, -10, -5, 0, 5, 10, 15, 20, 25, 30, 35, 40, 45, 50, 55, 60, 65, 70, 75, 80, 85, 90],
            "labels": false,
            "domain": false,
            "grid": false,
            "title": null,
            "tickSize": {"condition": {"test": "datum.value % 30 === 0", "value": -113}, "value": -58}
          }
        },
        "y": {
          "field": "fit",
          "type": "quantitative",
          "scale": {"domain": [0, 1], "nice": false, "zero": false},
          "axis": {
            "orient": "left",
            "values": [0, 0.05, 0.1, 0.15, 0.2, 0.25, 0.3, 0.35, 0.4, 0.45, 0.5, 0.55, 0.6, 0.65, 0.7, 0.75, 0.8, 0.85, 0.9, 0.95, 1.0],
            "labels": false,
            "domain": false,
            "grid": false,
            "title": null,
            "tickSize": {"condition": {"test": "abs(datum.value * 5 - round(datum.value * 5)) < 0.001", "value": -113}, "value": -58}
          }
        }
      }
    },
    {
      "mark": {"type": "circle", "size": 1, "opacity": 0},
      "encoding": {
        "x": {
          "field": "lat",
          "type": "quantitative",
          "scale": {"domain": [-90, 90], "nice": false, "zero": false},
          "axis": {
            "orient": "top",
            "values": [-90, -85, -80, -75, -70, -65, -60, -55, -50, -45, -40, -35, -30, -25, -20, -15, -10, -5, 0, 5, 10, 15, 20, 25, 30, 35, 40, 45, 50, 55, 60, 65, 70, 75, 80, 85, 90],
            "labels": false,
            "domain": false,
            "grid": false,
            "title": null,
            "tickSize": {"condition": {"test": "datum.value % 30 === 0", "value": -113}, "value": -58}
          }
        },
        "y": {
          "field": "fit",
          "type": "quantitative",
          "scale": {"domain": [0, 1], "nice": false, "zero": false},
          "axis": {
            "orient": "right",
            "values": [0, 0.05, 0.1, 0.15, 0.2, 0.25, 0.3, 0.35, 0.4, 0.45, 0.5, 0.55, 0.6, 0.65, 0.7, 0.75, 0.8, 0.85, 0.9, 0.95, 1.0],
            "labels": false,
            "domain": false,
            "grid": false,
            "title": null,
            "tickSize": {"condition": {"test": "abs(datum.value * 5 - round(datum.value * 5)) < 0.001", "value": -113}, "value": -58}
          }
        }
      }
    }
  ],
  "resolve": {"axis": {"x": "independent", "y": "independent"}},
  "config": {
    "font": "DejaVu Sans",
    "view": {"stroke": "black", "strokeWidth": 6},
    "axis": {
      "labelFont": "DejaVu Sans",
      "labelFontSize": 76,
      "labelColor": "black",
      "titleFont": "DejaVu Sans",
      "titleFontSize": 76,
      "titleFontWeight": "normal",
      "titleColor": "black",
      "tickColor": "black",
      "tickWidth": 6,
      "tickCap": "butt"
    }
  }
}
